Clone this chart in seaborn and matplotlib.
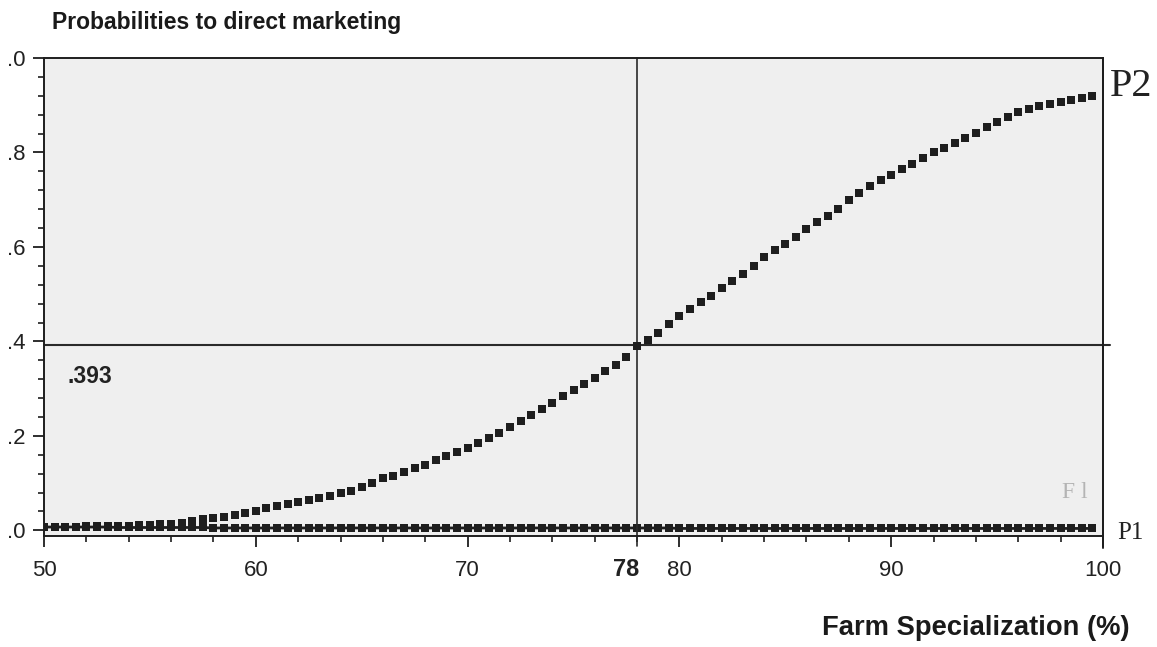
import numpy as np
import matplotlib
matplotlib.use("Agg")
import matplotlib.pyplot as plt
import matplotlib.transforms as mtransforms
from matplotlib.lines import Line2D
from matplotlib.ticker import FixedLocator, MultipleLocator
import seaborn as sns

# Farm specialization (%) evaluated in half-point steps
specialization = np.arange(50.0, 100.0, 0.5)

# Predicted probability of direct marketing (P2)
p2 = [
    0.008, 0.008, 0.008, 0.008, 0.009, 0.009, 0.009, 0.010, 0.010, 0.011,   # 50.0 - 54.5
    0.012, 0.013, 0.014, 0.016, 0.019, 0.023, 0.026, 0.029, 0.032, 0.036,   # 55.0 - 59.5
    0.041, 0.047, 0.051, 0.055, 0.060, 0.065, 0.069, 0.073, 0.078, 0.084,   # 60.0 - 64.5
    0.091, 0.101, 0.110, 0.116, 0.123, 0.131, 0.139, 0.148, 0.157, 0.166,   # 65.0 - 69.5
    0.175, 0.184, 0.195, 0.207, 0.219, 0.232, 0.245, 0.257, 0.270, 0.284,   # 70.0 - 74.5
    0.297, 0.310, 0.323, 0.337, 0.351, 0.366, 0.390, 0.404, 0.418, 0.437,   # 75.0 - 79.5
    0.453, 0.468, 0.483, 0.497, 0.512, 0.527, 0.542, 0.560, 0.578, 0.593,   # 80.0 - 84.5
    0.607, 0.622, 0.637, 0.653, 0.665, 0.680, 0.700, 0.715, 0.729, 0.742,   # 85.0 - 89.5
    0.753, 0.764, 0.775, 0.788, 0.800, 0.810, 0.820, 0.831, 0.842, 0.853,   # 90.0 - 94.5
    0.864, 0.875, 0.885, 0.892, 0.898, 0.903, 0.907, 0.911, 0.915, 0.919,   # 95.0 - 99.5
]

# Predicted probability of the other outcome (P1), nearly flat at the bottom
p1 = [
    0.007, 0.007, 0.007, 0.007, 0.007, 0.007, 0.007, 0.006, 0.006, 0.006,
    0.006, 0.006, 0.006, 0.006, 0.006, 0.006, 0.005, 0.005, 0.005, 0.005,
    0.005, 0.005, 0.005, 0.005, 0.005, 0.005, 0.005, 0.005, 0.005, 0.005,
    0.005, 0.005, 0.005, 0.005, 0.005, 0.005, 0.005, 0.005, 0.005, 0.005,
    0.005, 0.005, 0.005, 0.005, 0.005, 0.005, 0.005, 0.005, 0.005, 0.005,
    0.005, 0.005, 0.005, 0.005, 0.005, 0.005, 0.005, 0.005, 0.005, 0.005,
    0.004, 0.004, 0.004, 0.004, 0.004, 0.004, 0.004, 0.004, 0.004, 0.004,
    0.004, 0.004, 0.004, 0.004, 0.004, 0.004, 0.004, 0.004, 0.004, 0.004,
    0.004, 0.004, 0.004, 0.004, 0.004, 0.004, 0.004, 0.004, 0.004, 0.004,
    0.004, 0.004, 0.004, 0.004, 0.004, 0.004, 0.004, 0.004, 0.004, 0.004,
]

x_ticks = [50, 60, 70, 80, 90, 100]
x_tick_labels = ["50", "60", "70", "80", "90", "100"]
y_ticks = [0.0, 0.2, 0.4, 0.6, 0.8, 1.0]
y_tick_labels = [".0", ".2", ".4", ".6", ".8", ".0"]

cut_x = 78
cut_y = 0.393

title = "Probabilities to direct marketing"
x_label = "Farm Specialization (%)"

sns.set_theme(style="ticks")
SANS = ["Liberation Sans", "DejaVu Sans"]
SERIF = ["Liberation Serif", "DejaVu Serif"]
plt.rcParams["font.family"] = SANS

INK = "#1e1e1e"

fig = plt.figure(figsize=(11.57, 6.47), dpi=100, facecolor="white")
ax = fig.add_axes([44 / 1157, 111 / 647, (1103 - 44) / 1157, (536 - 58) / 647])
ax.set_facecolor("#efefef")

# P1 curve: thick line with square markers along the bottom
sns.lineplot(x=specialization, y=p1, ax=ax, color=INK, linewidth=2.0,
             marker="s", markersize=6, markeredgewidth=0,
             estimator=None, sort=False, legend=False)

# P2 curve: square markers only
sns.scatterplot(x=specialization, y=p2, ax=ax, color=INK, marker="s",
                s=27, linewidth=0, legend=False, zorder=3)

ax.set_xlim(50, 100)
ax.set_ylim(-0.012, 1.0)

# Reference lines at the cut point
ax.axhline(cut_y, xmin=0, xmax=1.007, color="#2a2a2a", linewidth=1.5, clip_on=False, zorder=2)
ax.axvline(cut_x, ymin=-0.02, ymax=1.0, color="#2a2a2a", linewidth=1.2, clip_on=False, zorder=2)

# Frame
for side in ["left", "right", "top", "bottom"]:
    ax.spines[side].set_visible(True)
    ax.spines[side].set_color(INK)
    ax.spines[side].set_linewidth(1.4)
ax.add_line(Line2D([1, 1], [-0.026, 1], transform=ax.transAxes, color=INK,
                   linewidth=1.4, clip_on=False))

# Ticks
ax.xaxis.set_major_locator(FixedLocator(x_ticks))
ax.set_xticklabels(x_tick_labels)
ax.xaxis.set_minor_locator(MultipleLocator(2))
ax.yaxis.set_major_locator(FixedLocator(y_ticks))
ax.set_yticklabels(y_tick_labels)
ax.yaxis.set_minor_locator(MultipleLocator(0.04))
ax.tick_params(axis="both", which="major", direction="out", length=8, width=1.3,
               color=INK, labelsize=16, labelcolor="#222222")
ax.tick_params(axis="both", which="minor", direction="out", length=4, width=1.2, color=INK)
ax.tick_params(axis="x", which="major", pad=9)
ax.tick_params(axis="y", which="major", pad=5)
ax.set_xlabel("")
ax.set_ylabel("")

# Cut value annotations
ax.text(51.1, 0.326, ".393", fontsize=16.5, fontweight="bold", color="#222222",
        ha="left", va="center")
blend = mtransforms.blended_transform_factory(ax.transData, fig.transFigure)
ax.text(77.48, 1 - 569 / 647, "78", transform=blend, fontsize=17, fontweight="bold",
        color="#222222", ha="center", va="center")

# Series labels at the right edge
fig.text(1110 / 1157, 1 - 86 / 647, "P2", family=SERIF, fontsize=29, color="#222222",
         ha="left", va="center")
fig.text(1117 / 1157, 1 - 533 / 647, "P1", family=SERIF, fontsize=18, color="#222222",
         ha="left", va="center")
fig.text(1062 / 1157, 1 - 493 / 647, "F l", family=SERIF, fontsize=17, color="#b4b4b4",
         ha="left", va="center")

# Title and axis label
fig.text(52 / 1157, 1 - 22 / 647, title, fontsize=16.5, fontweight="bold", color="#1a1a1a",
         ha="left", va="center")
fig.text(1130 / 1157, 1 - 628 / 647, x_label, fontsize=19.7, fontweight="bold",
         color="#1a1a1a", ha="right", va="center")

fig.savefig("out.png", dpi=100, facecolor="white")
